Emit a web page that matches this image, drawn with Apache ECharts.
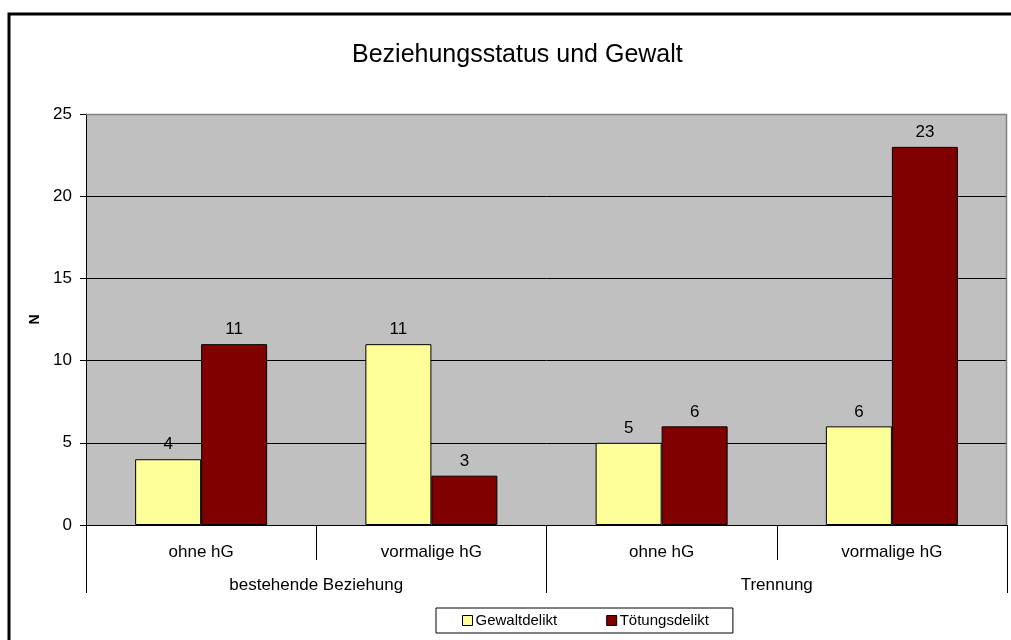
<!DOCTYPE html>
<html style="height: 100%">
<head>
  <meta charset="UTF-8" />
  <title>Beziehungsstatus und Gewalt</title>
  <script src="https://cdn.jsdelivr.net/npm/echarts@6/dist/echarts.min.js"></script>
</head>
<body style="height: 100%; margin: 0; background: #fff">
  <div id="container" style="width: 1011px; height: 640px"></div>
  <script>
    const subCategories = ['ohne hG', 'vormalige hG', 'ohne hG', 'vormalige hG'];
    const mainCategories = ['bestehende Beziehung', 'Trennung'];
    const gewaltdelikt = [4, 11, 5, 6];
    const toetungsdelikt = [11, 3, 6, 23];

    const font = '"Liberation Sans", Arial, sans-serif';
    const chart = echarts.init(document.getElementById('container'), null, { renderer: 'canvas' });

    const option = {
      animation: false,
      textStyle: { fontFamily: font },
      title: {
        text: 'Beziehungsstatus und Gewalt',
        left: 347,
        top: 38,
        textStyle: { fontFamily: font, fontSize: 25, fontWeight: 'normal', color: '#000' }
      },
      graphic: [
        {
          type: 'polyline',
          shape: { points: [[9, 640], [9, 14], [1011, 14]] },
          style: { stroke: '#000', lineWidth: 3, fill: null }
        },
        {
          type: 'polyline',
          shape: { points: [[86, 114.5], [1006.5, 114.5], [1006.5, 525]] },
          style: { stroke: '#808080', lineWidth: 1.5, fill: null },
          z: 10
        }
      ],
      legend: {
        left: 436,
        top: 608,
        itemGap: 49,
        itemWidth: 10,
        itemHeight: 10,
        padding: [5, 24, 5, 26],
        borderColor: '#000',
        borderWidth: 1,
        icon: 'rect',
        itemStyle: { borderColor: '#000', borderWidth: 1 },
        textStyle: { fontFamily: font, fontSize: 15, color: '#000', padding: [0, 0, 0, -2] },
        data: ['Gewaltdelikt', 'Tötungsdelikt']
      },
      grid: {
        left: 86,
        right: 4,
        top: 114,
        bottom: 115,
        show: true,
        backgroundColor: '#C0C0C0',
        borderWidth: 0
      },
      xAxis: [
        {
          type: 'category',
          data: subCategories,
          position: 'bottom',
          axisLine: { show: true, lineStyle: { color: '#000', width: 1 } },
          axisTick: { show: true, length: 35, lineStyle: { color: '#000' } },
          axisLabel: { fontFamily: font, fontSize: 17, color: '#000', margin: 19 }
        },
        {
          type: 'category',
          data: mainCategories,
          position: 'bottom',
          axisLine: { show: false },
          axisTick: { show: true, length: 68, lineStyle: { color: '#000' } },
          axisLabel: { fontFamily: font, fontSize: 17, color: '#000', margin: 52 }
        }
      ],
      yAxis: {
        type: 'value',
        min: 0,
        max: 25,
        interval: 5,
        name: 'N',
        nameLocation: 'middle',
        nameGap: 41,
        nameTextStyle: { fontFamily: font, fontSize: 14, fontWeight: 'bold', color: '#000' },
        axisLine: { show: true, lineStyle: { color: '#000', width: 1 } },
        axisTick: { show: true, length: 6, lineStyle: { color: '#000' } },
        axisLabel: { fontFamily: font, fontSize: 17, color: '#000', margin: 14 },
        splitLine: { lineStyle: { color: '#000', width: 1 } }
      },
      series: [
        {
          name: 'Gewaltdelikt',
          type: 'bar',
          xAxisIndex: 0,
          data: gewaltdelikt,
          barWidth: 66,
          barGap: '0%',
          itemStyle: { color: '#FFFF99', borderColor: '#000', borderWidth: 1 },
          label: { show: true, position: 'top', distance: 6, fontFamily: font, fontSize: 17, color: '#000' }
        },
        {
          name: 'Tötungsdelikt',
          type: 'bar',
          xAxisIndex: 0,
          data: toetungsdelikt,
          barWidth: 66,
          barGap: '0%',
          itemStyle: { color: '#800000', borderColor: '#000', borderWidth: 1 },
          label: { show: true, position: 'top', distance: 6, fontFamily: font, fontSize: 17, color: '#000' }
        }
      ]
    };

    chart.setOption(option);
  </script>
</body>
</html>
